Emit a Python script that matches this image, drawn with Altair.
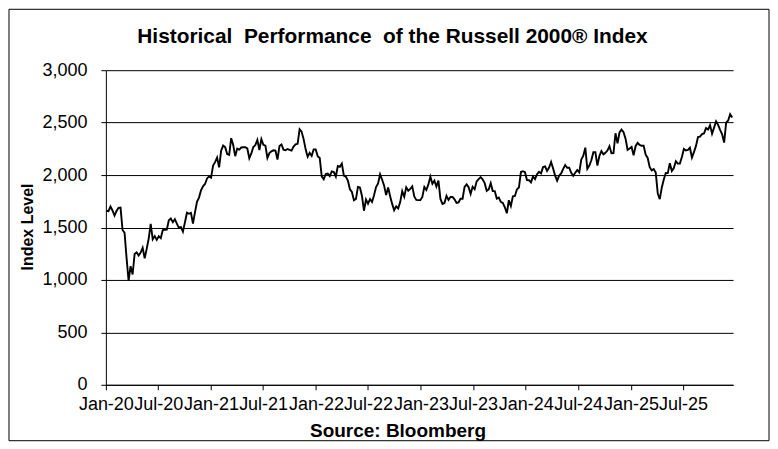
import altair as alt
import pandas as pd

# Weekly (Friday) index levels
vals_2020 = [1660, 1656, 1700, 1662, 1614, 1657, 1688, 1690, 1476, 1450, 1210, 992, 1131,
             1052, 1247, 1263, 1233, 1260, 1307, 1206, 1296, 1394, 1534, 1387, 1418, 1382,
             1417, 1398, 1476, 1479, 1480, 1568, 1585, 1551, 1580, 1536, 1497, 1505, 1460,
             1547, 1641, 1631, 1640, 1538, 1644, 1744, 1785, 1855, 1893, 1915, 1968, 1987]
vals_2021 = [1975, 2091, 2123, 2166, 2073, 2233, 2281, 2266, 2201, 2192, 2352, 2287, 2180,
             2253, 2243, 2263, 2265, 2266, 2254, 2160, 2206, 2268, 2286, 2336, 2239, 2342,
             2289, 2280, 2163, 2209, 2226, 2236, 2233, 2148, 2277, 2292, 2242, 2237, 2249,
             2241, 2233, 2272, 2292, 2298, 2437, 2413, 2343, 2245, 2175, 2211, 2183, 2245, 2245]
vals_2022 = [2180, 2163, 1988, 1960, 2010, 2015, 1990, 2035, 2028, 1986, 2086, 2079, 2110,
             1994, 1984, 1947, 1864, 1839, 1760, 1773, 1887, 1882, 1800, 1660, 1766, 1727,
             1770, 1744, 1807, 1885, 1921, 2007, 1957, 1899, 1809, 1882, 1798, 1725, 1665,
             1702, 1682, 1742, 1846, 1792, 1883, 1850, 1869, 1892, 1796, 1763, 1761, 1761]
vals_2023 = [1792, 1887, 1858, 1911, 1985, 1918, 1947, 1890, 1948, 1772, 1725, 1734, 1802,
             1764, 1791, 1791, 1768, 1735, 1740, 1774, 1774, 1888, 1911, 1884, 1821, 1889,
             1865, 1940, 1961, 1981, 1958, 1923, 1850, 1864, 1923, 1848, 1847, 1776, 1785,
             1745, 1734, 1693, 1636, 1760, 1705, 1798, 1801, 1863, 1881, 2029, 2037, 2027]
vals_2024 = [1952, 1951, 1930, 1986, 1961, 2008, 2031, 2016, 2076, 2083, 2039, 2072, 2125,
             2063, 1995, 1947, 1995, 2016, 2059, 2096, 2070, 2070, 2022, 1993, 2022, 2048,
             2026, 2148, 2185, 2261, 2060, 2091, 2141, 2218, 2218, 2091, 2182, 2229, 2198,
             2212, 2234, 2276, 2208, 2209, 2399, 2303, 2406, 2434, 2409, 2347, 2241, 2254]
vals_2025 = [2268, 2189, 2275, 2307, 2287, 2279, 2280, 2195, 2163, 2075, 2045, 2057, 2024,
             1827, 1770, 1880, 1957, 2020, 2019, 2113, 2039, 2067, 2132, 2110, 2109, 2172,
             2249, 2235, 2241, 2261, 2167, 2218, 2278, 2362, 2366, 2391, 2397, 2448, 2434,
             2476, 2394, 2452, 2513, 2479, 2432, 2388, 2310, 2500, 2521, 2580, 2550]

year_values = {2020: vals_2020, 2021: vals_2021, 2022: vals_2022,
               2023: vals_2023, 2024: vals_2024, 2025: vals_2025}

y_ticks = [0, 500, 1000, 1500, 2000, 2500, 3000]
x_tick_months = [(y, m) for y in range(2020, 2026) for m in (1, 7)]

NB = "\u00a0"
title_text = f"Historical{NB}{NB}Performance{NB}{NB}of the Russell 2000® Index"
y_title_text = "Index Level"
source_text = "Source: Bloomberg"

frames = []
for yr, vals in year_values.items():
    end = "2025-12-19" if yr == 2025 else f"{yr}-12-31"
    d = pd.date_range(f"{yr}-01-01", end, freq="W-FRI")[:len(vals)]
    frames.append(pd.DataFrame({"date": d, "value": vals[:len(d)]}))
df = pd.concat(frames, ignore_index=True)

FONT = "Liberation Sans"

line = alt.Chart(df).mark_line(color="black", strokeWidth=1.9).encode(
    x=alt.X("date:T",
            scale=alt.Scale(domain=[alt.DateTime(year=2020, month=1, date=1),
                                    alt.DateTime(year=2025, month=12, date=22)], nice=False),
            axis=alt.Axis(values=[alt.DateTime(year=y, month=m, date=1) for y, m in x_tick_months],
                          format="%b-%y", labelFlush=False, labelOverlap=False, grid=False,
                          title="", tickSize=5, labelPadding=6)),
    y=alt.Y("value:Q",
            scale=alt.Scale(domain=[0, 3000], nice=False),
            axis=alt.Axis(values=y_ticks, format=",.0f", grid=True, title="",
                          tickSize=5, labelPadding=14)),
)

one = pd.DataFrame({"k": [0]})

border = alt.Chart(one).mark_rect(fillOpacity=0, stroke="black", strokeWidth=1).encode(
    x=alt.value(-97), x2=alt.value(664), y=alt.value(-61), y2=alt.value(371))

title = alt.Chart(pd.DataFrame({"t": [title_text]})).mark_text(
    font=FONT, fontSize=20.9, fontWeight="bold", color="black", align="center",
    baseline="alphabetic").encode(text="t:N", x=alt.value(287), y=alt.value(-27.5))

ytitle = alt.Chart(pd.DataFrame({"t": [y_title_text]})).mark_text(
    font=FONT, fontSize=16, fontWeight="bold", color="black", align="center",
    baseline="middle", angle=270).encode(text="t:N", x=alt.value(-78), y=alt.value(157))

source = alt.Chart(pd.DataFrame({"t": [source_text]})).mark_text(
    font=FONT, fontSize=19, fontWeight="bold", color="black", align="center",
    baseline="alphabetic").encode(text="t:N", x=alt.value(292.5), y=alt.value(367))

chart = alt.layer(border, line, title, ytitle, source).properties(
    width=628, height=315, padding=0, background="white"
).configure_view(stroke=None).configure_axis(
    labelFont=FONT, labelFontSize=18, labelColor="black",
    domainColor="black", tickColor="black", gridColor="black",
    gridOpacity=1, domainWidth=1, tickWidth=1, gridWidth=1
)

chart.save("out.html", embed_options={"renderer": "svg", "actions": False})
